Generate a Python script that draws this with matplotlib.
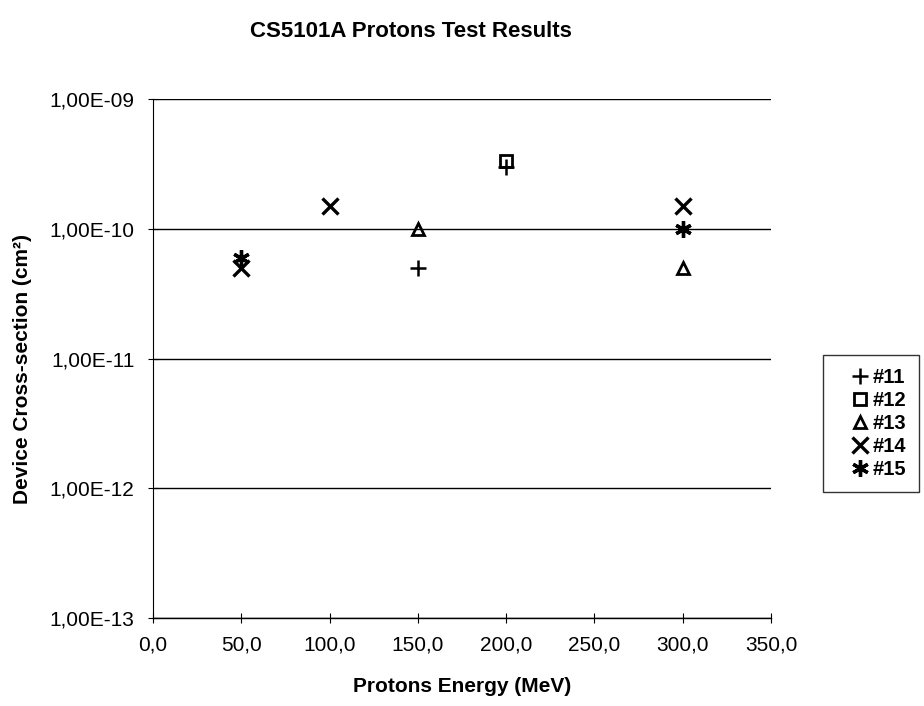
## CS5101A protons test results - device cross-section vs energy ##
import matplotlib
matplotlib.use('Agg')
import matplotlib.pyplot as plt
from matplotlib.ticker import FixedLocator, FuncFormatter, NullLocator

## data #######################################################################
devices = ['#11', '#12', '#13', '#14', '#15']
energy = {
    '#11': [150.0, 200.0],
    '#12': [200.0],
    '#13': [150.0, 300.0],
    '#14': [50.0, 100.0, 300.0],
    '#15': [50.0, 300.0],
}
xsect = {
    '#11': [5.0e-11, 3.0e-10],
    '#12': [3.3e-10],
    '#13': [1.0e-10, 5.0e-11],
    '#14': [5.0e-11, 1.5e-10, 1.5e-10],
    '#15': [6.0e-11, 1.0e-10],
}
xTicks = [0, 50, 100, 150, 200, 250, 300, 350]
yTicks = [1e-13, 1e-12, 1e-11, 1e-10, 1e-9]
yTickLabels = ['1,00E-13', '1,00E-12', '1,00E-11', '1,00E-10', '1,00E-09']

## style ######################################################################
plt.rcParams['font.family'] = ['Liberation Sans', 'DejaVu Sans']
markers = {'#11': ('+', 12, 1.8),
           '#12': ('s', 8, 2.0),
           '#13': ('^', 9, 2.0),
           '#14': ('x', 11, 2.4),
           '#15': ((6, 2, 0), 12, 2.4)}

## plot #######################################################################
fig = plt.figure(figsize=(9.24, 7.06), dpi=100, facecolor='white')
ax = fig.add_axes([0.1656, 0.1246, 0.6688, 0.7352])

for dev in devices:
    m, ms, mew = markers[dev]
    ax.plot(energy[dev], xsect[dev], linestyle='none', marker=m, markersize=ms,
            markeredgewidth=mew, markeredgecolor='black',
            markerfacecolor='none', label=dev, clip_on=False)

ax.set_yscale('log')
ax.set_xlim(0, 350)
ax.set_ylim(1e-13, 1e-9)

ax.xaxis.set_major_locator(FixedLocator(xTicks))
ax.xaxis.set_major_formatter(FuncFormatter(lambda v, p: ('%.1f' % v).replace('.', ',')))
ax.yaxis.set_major_locator(FixedLocator(yTicks))
ax.yaxis.set_major_formatter(FuncFormatter(lambda v, p: yTickLabels[yTicks.index(min(yTicks, key=lambda t: abs(t - v)))]))
ax.yaxis.set_minor_locator(NullLocator())
ax.tick_params(axis='both', direction='inout', length=7, width=0.8,
               labelsize=15, color='black')
ax.tick_params(axis='x', pad=9)
ax.tick_params(axis='y', pad=10)

ax.grid(axis='y', which='major', color='black', linewidth=1.0)
ax.set_axisbelow(True)
ax.spines['top'].set_visible(False)
ax.spines['right'].set_visible(False)
ax.spines['left'].set_linewidth(0.8)
ax.spines['bottom'].set_linewidth(1.0)

ax.set_xlabel('Protons Energy (MeV)', fontsize=15, fontweight='bold', labelpad=16)
ax.set_ylabel('Device Cross-section (cm²)', fontsize=15, fontweight='bold')
ax.yaxis.set_label_coords(-0.196, 0.48)
fig.suptitle('CS5101A Protons Test Results', x=0.445, y=0.97,
             fontsize=16, fontweight='bold')

leg = fig.legend(loc='upper left', bbox_to_anchor=(0.8907, 0.497),
                 frameon=True, fancybox=False, edgecolor='black',
                 fontsize=14.5, handlelength=2.4, handletextpad=-0.6,
                 labelspacing=0.2, borderpad=0.65, borderaxespad=0)
leg.get_frame().set_linewidth(1.0)
for t in leg.get_texts():
    t.set_fontweight('bold')

plt.savefig('out.png', dpi=100, facecolor='white')
